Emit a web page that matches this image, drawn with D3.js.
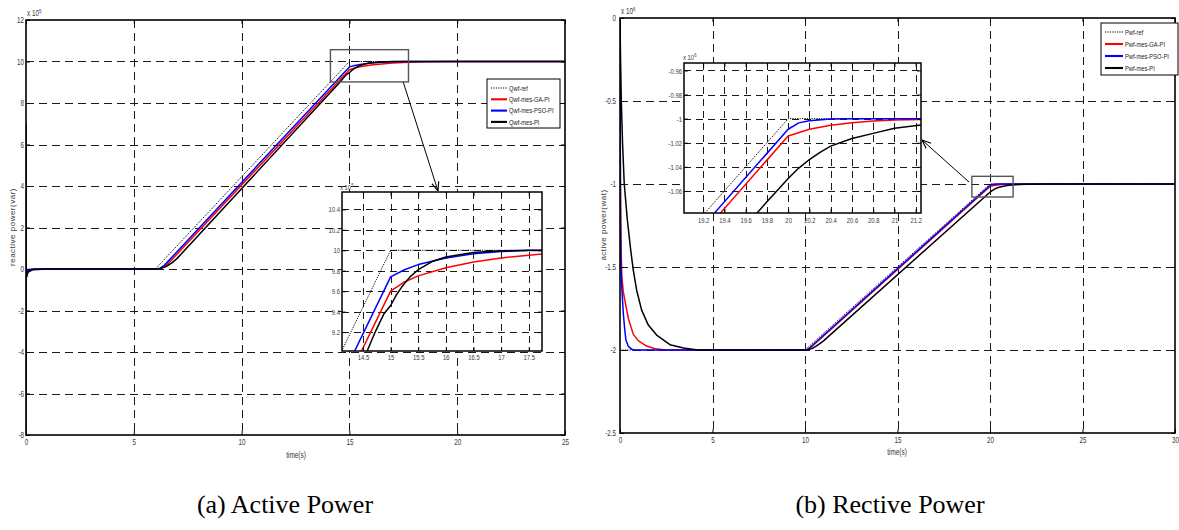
<!DOCTYPE html>
<html>
<head>
<meta charset="utf-8">
<script src="https://cdn.jsdelivr.net/npm/d3@7"></script>
<style>
  body { margin: 0; background: #fff; }
  svg { display: block; }
</style>
</head>
<body>
<svg id="chart" width="1179" height="530"></svg>
<script>
// ---------- (a) reactive power, values in x 10^5 var ----------
const qTimeTicks = [0, 5, 10, 15, 20, 25];
const qValueTicks = [-8, -6, -4, -2, 0, 2, 4, 6, 8, 10, 12];
const qZoomTimeTicks = [14.5, 15, 15.5, 16, 16.5, 17, 17.5];
const qZoomValueTicks = [9.2, 9.4, 9.6, 9.8, 10, 10.2, 10.4];
const qLegend = ["Qwf-ref", "Qwf-mes-GA-PI", "Qwf-mes-PSO-PI", "Qwf-mes-PI"];

const qRef = [[0, 0], [6, 0], [15, 10], [25, 10]];
const qGA = [[0, -6.3], [0.004, -0.3], [0.1, -0.1], [0.4, 0], [6, 0], [6.2, 0.02], [6.4, 0.1], [6.6, 0.27],
  [6.8, 0.49], [15, 9.6], [15.25, 9.69], [15.5, 9.75], [16, 9.83], [16.5, 9.885], [17, 9.925], [17.5, 9.952],
  [17.75, 9.963], [18.5, 9.982], [20, 9.996], [21, 10], [25, 10]];
const qPSO = [[0, -5.1], [0.004, -0.5], [0.08, -0.08], [0.3, 0], [6, 0], [6.2, 0.03], [6.4, 0.16], [6.6, 0.38],
  [15, 9.74], [15.25, 9.81], [15.5, 9.86], [16, 9.925], [16.5, 9.965], [17, 9.988], [17.5, 9.997], [18, 10], [25, 10]];
const qPI = [[0, -8], [0.004, 7], [0.012, -0.4], [0.1, -0.15], [0.3, -0.04], [1, 0], [6, 0], [6.25, 0.03],
  [6.5, 0.12], [6.75, 0.28], [7, 0.5], [14.58, 9.02], [14.72, 9.2], [14.88, 9.38], [15, 9.46], [15.1, 9.56],
  [15.2, 9.64], [15.35, 9.74], [15.5, 9.81], [15.75, 9.89], [16, 9.935], [16.5, 9.978], [17, 9.995], [17.5, 10], [25, 10]];

// ---------- (b) active power, values in x 10^6 W ----------
const pTimeTicks = [0, 5, 10, 15, 20, 25, 30];
const pValueTicks = [-2.5, -2, -1.5, -1, -0.5, 0];
const pZoomTimeTicks = [19.2, 19.4, 19.6, 19.8, 20, 20.2, 20.4, 20.6, 20.8, 21, 21.2];
const pZoomValueTicks = [-1.06, -1.04, -1.02, -1, -0.98, -0.96];
const pLegend = ["Pwf-ref", "Pwf-mes-GA-PI", "Pwf-mes-PSO-PI", "Pwf-mes-PI"];

const pRef = [[0, -2], [10, -2], [20, -1], [30, -1]];
const pGA = [[0, 0], [0.01, -0.6], [0.03, -1.1], [0.06, -1.4], [0.1, -1.56], [0.18, -1.65], [0.27, -1.705],
  [0.45, -1.81], [0.72, -1.906], [1.0, -1.945], [1.44, -1.976], [1.9, -1.992], [2.5, -2], [10, -2], [10.1, -1.999],
  [10.2, -1.994], [10.3, -1.986], [10.4, -1.976], [19.366, -1.078], [20, -1.0144], [20.2, -1.0088], [20.4, -1.0055],
  [20.6, -1.0033], [20.8, -1.002], [21, -1.0012], [21.25, -1.0007], [22, -1.0002], [23, -1], [30, -1]];
const pPSO = [[0, 0], [0.01, -0.7], [0.03, -1.25], [0.05, -1.5], [0.1, -1.63], [0.18, -1.78], [0.25, -1.87],
  [0.32, -1.94], [0.45, -1.978], [0.63, -1.995], [0.8, -2], [10, -2], [10.1, -1.999], [10.2, -1.992], [10.3, -1.982],
  [19.31, -1.078], [20, -1.0088], [20.1, -1.0035], [20.2, -1.0017], [20.4, -1.0003], [20.6, -1], [30, -1]];
const pPI = [[0, 0], [0.03, -0.25], [0.07, -0.5], [0.14, -0.76], [0.23, -1.0], [0.4, -1.22], [0.58, -1.4],
  [0.72, -1.52], [0.9, -1.64], [1.17, -1.76], [1.53, -1.85], [1.98, -1.91], [2.7, -1.968], [3.43, -1.988], [4.2, -2],
  [10, -2], [10.2, -1.998], [10.4, -1.99], [10.6, -1.977], [10.8, -1.962], [11, -1.945], [19.71, -1.078],
  [19.8, -1.069], [19.9, -1.0595], [20, -1.0497], [20.1, -1.041], [20.2, -1.0339], [20.3, -1.028], [20.4, -1.0228],
  [20.6, -1.0164], [20.8, -1.0122], [21, -1.008], [21.25, -1.0053], [21.6, -1.003], [22, -1.0015], [23, -1.0004],
  [24, -1], [30, -1]];

// ---------- drawing ----------
const SANS = "Liberation Sans";
const SERIF = "Liberation Serif";
const NARROW = 0.74;   // horizontal squeeze for the condensed axis lettering

const svg = d3.select("#chart");
const defs = svg.append("defs");
defs.append("marker").attr("id", "arrowHead")
  .attr("viewBox", "0 0 10 10").attr("refX", 10).attr("refY", 5)
  .attr("markerWidth", 9).attr("markerHeight", 9).attr("markerUnits", "userSpaceOnUse")
  .attr("orient", "auto")
  .append("path").attr("d", "M0,1 L10,5 L0,9").attr("fill", "none").attr("stroke", "#000").attr("stroke-width", 1.3);

const seriesStyle = [
  { color: "#000", width: 1, dash: "1.2,1.2" },   // reference
  { color: "#ff0000", width: 1.5, dash: null },   // GA-PI
  { color: "#0000ff", width: 1.5, dash: null },   // PSO-PI
  { color: "#000", width: 1.5, dash: null }       // PI
];

const fmt = d => String(Math.round(d * 1000) / 1000);
let clipId = 0;

// condensed text placed at (x, y)
function narrowText(parent, x, y, str, size, opts = {}) {
  const t = parent.append("text")
    .attr("transform", `translate(${x},${y}) rotate(${opts.rotate || 0}) scale(${opts.sx || NARROW},1)`)
    .attr("font-family", SANS).attr("font-size", size).attr("fill", opts.fill || "#3a3a3a")
    .attr("text-anchor", opts.anchor || "start");
  if (opts.spacing) t.attr("letter-spacing", opts.spacing);
  t.text(str);
  return t;
}

function panel(o) {
  const g = svg.append("g");
  const x = d3.scaleLinear().domain(o.xDomain).range([o.left, o.right]);
  const y = d3.scaleLinear().domain(o.yDomain).range([o.bottom, o.top]);
  const w = o.right - o.left, h = o.bottom - o.top;

  g.append("rect").attr("x", o.left).attr("y", o.top).attr("width", w).attr("height", h).attr("fill", "#fff");

  // dashed grid
  const grid = g.append("g").attr("stroke", "#1a1a1a").attr("stroke-width", 1).attr("stroke-dasharray", o.gridDash);
  grid.selectAll("line.v").data(o.xTicks.filter(t => x(t) > o.left + 1 && x(t) < o.right - 1)).join("line")
    .attr("x1", d => Math.round(x(d)) + 0.5).attr("x2", d => Math.round(x(d)) + 0.5)
    .attr("y1", o.top).attr("y2", o.bottom);
  grid.selectAll("line.h").data(o.yTicks.filter(t => y(t) > o.top + 1 && y(t) < o.bottom - 1)).join("line")
    .attr("y1", d => Math.round(y(d)) + 0.5).attr("y2", d => Math.round(y(d)) + 0.5)
    .attr("x1", o.left).attr("x2", o.right);

  // series
  const cid = "clip" + (clipId++);
  defs.append("clipPath").attr("id", cid).append("rect")
    .attr("x", o.left).attr("y", o.top).attr("width", w).attr("height", h);
  const line = d3.line().x(d => x(d[0])).y(d => y(d[1])).curve(d3.curveLinear);
  const lines = g.append("g").attr("clip-path", `url(#${cid})`);
  o.order.forEach(i => {
    const s = seriesStyle[i];
    lines.append("path").datum(o.series[i]).attr("d", line)
      .attr("fill", "none").attr("stroke", s.color).attr("stroke-width", s.width)
      .attr("stroke-dasharray", s.dash).attr("stroke-linejoin", "round");
  });

  // axes with inward ticks
  const styleAxis = (sel, fs) => {
    sel.attr("font-family", SANS).attr("font-size", fs);
    sel.select(".domain").remove();
    sel.selectAll(".tick line").attr("stroke", "#000").attr("stroke-width", 1);
    sel.selectAll("text").attr("fill", "#3a3a3a").attr("transform", `scale(${NARROW},1)`);
  };
  g.append("g").attr("transform", `translate(0,${o.bottom})`)
    .call(d3.axisBottom(x).tickValues(o.xTicks).tickSizeInner(-o.tick).tickSizeOuter(0).tickPadding(o.xPad).tickFormat(fmt))
    .call(a => styleAxis(a, o.fontSize));
  g.append("g").attr("transform", `translate(0,${o.top})`)
    .call(d3.axisTop(x).tickValues(o.xTicks).tickSizeInner(-o.tick).tickSizeOuter(0).tickFormat(""))
    .call(a => styleAxis(a, o.fontSize));
  g.append("g").attr("transform", `translate(${o.left},0)`)
    .call(d3.axisLeft(y).tickValues(o.yTicks).tickSizeInner(-o.tick).tickSizeOuter(0).tickPadding(o.yPad / NARROW).tickFormat(fmt))
    .call(a => styleAxis(a, o.fontSize));
  g.append("g").attr("transform", `translate(${o.right},0)`)
    .call(d3.axisRight(y).tickValues(o.yTicks).tickSizeInner(-o.tick).tickSizeOuter(0).tickFormat(""))
    .call(a => styleAxis(a, o.fontSize));

  // frame
  g.append("rect").attr("x", o.left).attr("y", o.top).attr("width", w).attr("height", h)
    .attr("fill", "none").attr("stroke", "#000").attr("stroke-width", o.frame);

  // exponent label
  const ex = narrowText(g, o.left + o.expDx, o.top - o.expDy, "", o.fontSize);
  ex.append("tspan").text("x 10");
  ex.append("tspan").attr("dy", -3).attr("font-size", o.fontSize - 2.5).text(o.exp);

  return { x, y, g };
}

function legend(l, labels) {
  const g = svg.append("g");
  g.append("rect").attr("x", l.x).attr("y", l.y).attr("width", l.w).attr("height", l.h)
    .attr("fill", "#fff").attr("stroke", "#000").attr("stroke-width", 1);
  labels.forEach((lab, i) => {
    const s = seriesStyle[i];
    const cy = l.y + l.first + i * l.step;
    g.append("line").attr("x1", l.x + 4).attr("x2", l.x + 4 + l.sample).attr("y1", cy).attr("y2", cy)
      .attr("stroke", s.color).attr("stroke-width", s.width + (i === 0 ? 0 : 0.6)).attr("stroke-dasharray", s.dash);
    narrowText(g, l.x + 6 + l.sample, cy + 2.7, lab, 7.8, { fill: "#222" });
  });
}

function zoomMarker(main, xd, yd, from, to) {
  const x0 = main.x(xd[0]), x1 = main.x(xd[1]);
  const y0 = main.y(yd[1]), y1 = main.y(yd[0]);
  svg.append("rect").attr("x", x0).attr("y", y0).attr("width", x1 - x0).attr("height", y1 - y0)
    .attr("fill", "none").attr("stroke", "#555").attr("stroke-width", 1.4);
  svg.append("line").attr("x1", from[0]).attr("y1", from[1]).attr("x2", to[0]).attr("y2", to[1])
    .attr("stroke", "#000").attr("stroke-width", 1).attr("marker-end", "url(#arrowHead)");
}

// ----- left chart -----
const qMain = panel({
  left: 26, right: 565, top: 20, bottom: 435, xDomain: [0, 25], yDomain: [-8, 12],
  xTicks: qTimeTicks, yTicks: qValueTicks, series: [qRef, qGA, qPSO, qPI], order: [0, 1, 2, 3],
  gridDash: "8,5", tick: 4, xPad: 4, yPad: 2, fontSize: 8.5, frame: 1.6, exp: "5", expDx: 1, expDy: 4
});
const qZoomDomainX = [14.12, 17.74], qZoomDomainY = [9.015, 10.57];
zoomMarker(qMain, qZoomDomainX, qZoomDomainY, [qMain.x(17.5), qMain.y(9.0)], [438, 191]);
panel({
  left: 342, right: 542, top: 192, bottom: 351, xDomain: qZoomDomainX, yDomain: qZoomDomainY,
  xTicks: qZoomTimeTicks, yTicks: qZoomValueTicks, series: [qRef, qGA, qPSO, qPI], order: [0, 1, 2, 3],
  gridDash: "7,5", tick: 4, xPad: 3, yPad: 2, fontSize: 8, frame: 1.5, exp: "5", expDx: -2, expDy: 2
});
legend({ x: 487, y: 79, w: 73, h: 49, first: 9, step: 11.3, sample: 16 }, qLegend);

narrowText(svg, 296, 458, "time(s)", 8.5, { anchor: "middle", fill: "#333", sx: 0.76 });
narrowText(svg, 15, 227, "reactive power(var)", 8, { anchor: "middle", fill: "#333", rotate: -90, sx: 1, spacing: 0.5 });

// ----- right chart -----
const pMain = panel({
  left: 620, right: 1175, top: 18, bottom: 433, xDomain: [0, 30], yDomain: [-2.5, 0],
  xTicks: pTimeTicks, yTicks: pValueTicks, series: [pRef, pGA, pPSO, pPI], order: [0, 1, 2, 3],
  gridDash: "8,5", tick: 4, xPad: 4, yPad: 4, fontSize: 8.5, frame: 1.6, exp: "6", expDx: 1, expDy: 4
});
const pZoomDomainX = [19.02, 21.25], pZoomDomainY = [-1.0783, -0.9538];
zoomMarker(pMain, pZoomDomainX, pZoomDomainY, [969, 182], [922, 140]);
panel({
  left: 684, right: 921, top: 63, bottom: 213, xDomain: pZoomDomainX, yDomain: pZoomDomainY,
  xTicks: pZoomTimeTicks, yTicks: pZoomValueTicks, series: [pRef, pGA, pPSO, pPI], order: [0, 1, 2, 3],
  gridDash: "7,5", tick: 4, xPad: 4, yPad: 2, fontSize: 8, frame: 1.5, exp: "6", expDx: -1, expDy: 3
});
legend({ x: 1101, y: 23, w: 77, h: 52, first: 9, step: 12, sample: 18 }, pLegend);

narrowText(svg, 897, 455, "time(s)", 8.5, { anchor: "middle", fill: "#333", sx: 0.76 });
narrowText(svg, 606, 225, "active power(wat)", 8, { anchor: "middle", fill: "#333", rotate: -90, sx: 1, spacing: 0.5 });

// ----- captions -----
svg.append("text").attr("x", 285).attr("y", 513).attr("text-anchor", "middle")
  .attr("font-family", SERIF).attr("font-size", 26).attr("fill", "#000").text("(a) Active Power");
svg.append("text").attr("x", 890).attr("y", 513).attr("text-anchor", "middle")
  .attr("font-family", SERIF).attr("font-size", 26).attr("fill", "#000").text("(b) Rective Power");
</script>
</body>
</html>
